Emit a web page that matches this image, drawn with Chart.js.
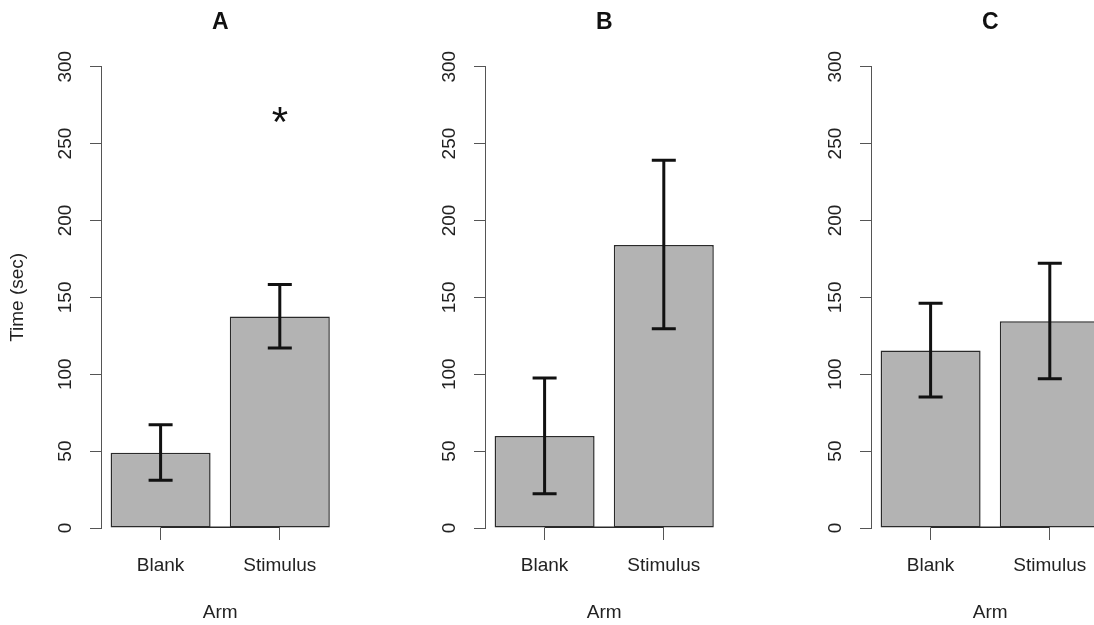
<!DOCTYPE html>
<html>
<head>
<meta charset="utf-8">
<script src="https://cdn.jsdelivr.net/npm/chart.js@4"></script>
<style>
  html, body { margin: 0; padding: 0; background: #fff; overflow: hidden; width: 1094px; height: 625px; }
  canvas { position: absolute; top: 0; }
</style>
</head>
<body>
<canvas id="panelA" width="384" height="625" style="left:0px"></canvas>
<canvas id="panelB" width="384" height="625" style="left:384px"></canvas>
<canvas id="panelC" width="384" height="625" style="left:770px"></canvas>
<script>
// data (mean and error bar ends, seconds)
const categories = ['Blank', 'Stimulus'];
const yTicks = [0, 50, 100, 150, 200, 250, 300];

const meanA = [49.0, 137.6];
const lowA  = [31.0, 117.0];
const highA = [67.2, 158.4];
const starA = [null, 268.5];

const meanB = [59.8, 184.0];
const lowB  = [22.3, 129.6];
const highB = [97.5, 239.1];

const meanC = [115.5, 134.4];
const lowC  = [85.2, 97.1];
const highC = [146.1, 172.1];

const FONT = '"Liberation Sans", Arial, Helvetica, sans-serif';
const AXIS_COLOR = '#555';
const TEXT_COLOR = '#222';

// error bars, the asterisk and the R style x axis line (first tick to last tick)
function extrasPlugin(lows, highs, stars) {
  return {
    id: 'extras',
    afterDatasetsDraw(chart) {
      const ctx = chart.ctx;
      const x = chart.scales.x, y = chart.scales.y;
      ctx.save();

      ctx.strokeStyle = '#2a2a2a';
      ctx.lineWidth = 1.5;
      ctx.beginPath();
      ctx.moveTo(x.getPixelForValue(0), Math.round(y.bottom) - 0.75);
      ctx.lineTo(x.getPixelForValue(categories.length - 1), Math.round(y.bottom) - 0.75);
      ctx.stroke();

      ctx.strokeStyle = '#111';
      ctx.lineWidth = 3;
      ctx.lineCap = 'butt';
      categories.forEach((c, i) => {
        const px = x.getPixelForValue(i);
        const top = y.getPixelForValue(highs[i]);
        const bot = y.getPixelForValue(lows[i]);
        ctx.beginPath();
        ctx.moveTo(px, top); ctx.lineTo(px, bot);
        ctx.moveTo(px - 12, top); ctx.lineTo(px + 12, top);
        ctx.moveTo(px - 12, bot); ctx.lineTo(px + 12, bot);
        ctx.stroke();
      });

      if (stars) {
        ctx.fillStyle = '#111';
        ctx.font = '42px ' + FONT;
        ctx.textAlign = 'center';
        ctx.textBaseline = 'alphabetic';
        stars.forEach((v, i) => {
          if (v === null) return;
          const m = ctx.measureText('*');
          const cy = y.getPixelForValue(v);
          ctx.fillText('*', x.getPixelForValue(i), cy + (m.actualBoundingBoxAscent - m.actualBoundingBoxDescent) / 2);
        });
      }
      ctx.restore();
    }
  };
}

function makePanel(canvasId, title, means, lows, highs, stars, showYTitle) {
  return new Chart(document.getElementById(canvasId), {
    type: 'bar',
    data: {
      labels: categories,
      datasets: [{
        data: means,
        backgroundColor: '#b3b3b3',
        borderColor: '#2a2a2a',
        borderWidth: 1.5,
        borderSkipped: false,
        barPercentage: 0.839,
        categoryPercentage: 1
      }]
    },
    options: {
      responsive: false,
      animation: false,
      layout: { padding: { left: 0, right: 44.6, top: 0, bottom: 0 } },
      plugins: {
        legend: { display: false },
        tooltip: { enabled: false },
        title: {
          display: true,
          text: title,
          fullSize: false,
          color: '#111',
          font: { family: FONT, size: 23, weight: 'bold' },
          padding: { top: 8.4, bottom: 30.7 }
        }
      },
      scales: {
        x: {
          offset: true,
          grid: { display: true, drawOnChartArea: false, drawTicks: true, tickLength: 12, offset: false, color: AXIS_COLOR },
          border: { display: false },
          ticks: { color: TEXT_COLOR, font: { family: FONT, size: 19 }, padding: 14.6, maxRotation: 0 },
          title: { display: true, text: 'Arm', color: TEXT_COLOR, font: { family: FONT, size: 19 }, padding: { top: 0, bottom: 1 } },
          afterFit: (s) => { s.height = 97; }
        },
        y: {
          min: 0,
          max: 300,
          afterBuildTicks: (s) => { s.ticks = yTicks.map(v => ({ value: v })); },
          grid: { display: true, drawOnChartArea: false, drawTicks: true, tickLength: 11, color: AXIS_COLOR },
          border: { display: true, color: AXIS_COLOR, width: 1 },
          ticks: { color: TEXT_COLOR, font: { family: FONT, size: 19 }, minRotation: 90, maxRotation: 90, crossAlign: 'center', padding: 8 },
          title: { display: showYTitle, text: 'Time (sec)', color: TEXT_COLOR, font: { family: FONT, size: 19 }, padding: { top: 6.6, bottom: 0 } },
          afterFit: (s) => { s.width = 101; }
        }
      }
    },
    plugins: [extrasPlugin(lows, highs, stars)]
  });
}

makePanel('panelA', 'A', meanA, lowA, highA, starA, true);
makePanel('panelB', 'B', meanB, lowB, highB, null, false);
makePanel('panelC', 'C', meanC, lowC, highC, null, false);
</script>
</body>
</html>
